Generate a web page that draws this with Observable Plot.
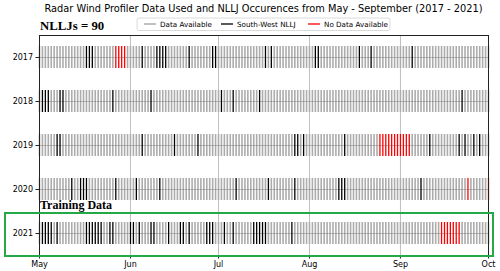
<!DOCTYPE html>
<html><head><meta charset="utf-8">
<script src="https://cdn.jsdelivr.net/npm/d3@7"></script>
<script src="https://cdn.jsdelivr.net/npm/@observablehq/plot@0.6"></script>
<style>body{margin:0;background:#fff;} #chart svg{display:block;}</style>
</head><body><div id="chart"></div>
<script>
// ---- data (days counted from May 1 = 0) ----
const years = [2017, 2018, 2019, 2020, 2021];
const monthLabels = ["May", "Jun", "Jul", "Aug", "Sep", "Oct"];
const monthStarts = [0, 31, 61, 92, 123, 153];
const seasonDays = 154; // May 1 .. Oct 1
const statusLabels = ["Data Available", "South-West NLLJ", "No Data Available"];
const nlljTotal = 90;

const nllj2017 = [16,17,18,35,40,41,42,43,51,59,60,77,79,94,95,109,113,127];
const missing2017 = [26,27,28,29];
const nllj2018 = [1,2,3,7,8,25,38,62,66,75,144];
const missing2018 = [];
const nllj2019 = [6,7,35,46,54,87,88,90,104,133,143,145,148,150];
const missing2019 = [116,117,118,119,120,121,122,123,124,125,126];
const nllj2020 = [11,14,15,16,26,33,41,67,78,87,102,103,104,130];
const missing2020 = [146,153];
const nllj2021 = [1,2,3,4,6,16,17,18,19,20,21,24,25,31,32,34,38,39,44,48,49,51,57,58,59,63,66,73,74,75,76,77,86];
const missing2021 = [137,138,139,140,141,142,143];

const nlljByYear = [nllj2017, nllj2018, nllj2019, nllj2020, nllj2021];
const missingByYear = [missing2017, missing2018, missing2019, missing2020, missing2021];

// ---- table ----
const rows = [];
years.forEach((year, i) => {
  for (let day = 0; day < seasonDays; day++) {
    let status = statusLabels[0];
    if (missingByYear[i].includes(day)) status = statusLabels[2];
    else if (nlljByYear[i].includes(day)) status = statusLabels[1];
    rows.push({year, day, status});
  }
});
const grayRows = rows.filter(d => d.status === statusLabels[0]);
const blackRows = rows.filter(d => d.status === statusLabels[1]);
const redRows = rows.filter(d => d.status === statusLabels[2]);

const half = 0.25;
const green = "#25a847";
const lastYear = years[years.length - 1];

function annotations(index, scales, values, dimensions) {
  const {x, y} = scales;
  const g = d3.create("svg:g").attr("text-anchor", "start");
  const left = dimensions.marginLeft, right = dimensions.width - dimensions.marginRight;
  // title
  g.append("text").attr("x", (left + right) / 2).attr("y", 12)
    .attr("text-anchor", "middle").attr("font-family", "DejaVu Sans").attr("font-size", 9.8)
    .attr("fill", "#000")
    .text("Radar Wind Profiler Data Used and NLLJ Occurences from May - September (2017 - 2021)");
  // NLLJ count
  g.append("text").attr("x", x(0) + 1).attr("y", 30).attr("text-anchor", "start")
    .attr("font-family", "Liberation Serif").attr("font-weight", "bold").attr("font-size", 12.8)
    .attr("fill", "#000").text(`NLLJs = ${nlljTotal}`);
  // legend
  const leg = g.append("g");
  leg.append("rect").attr("x", 137).attr("y", 18).attr("width", 253).attr("height", 12.5)
    .attr("rx", 2).attr("fill", "#fff").attr("stroke", "#d0d0d0").attr("stroke-width", 0.8);
  const items = [
    {label: statusLabels[0], color: "#a0a0a0", x0: 144},
    {label: statusLabels[1], color: "#000", x0: 221},
    {label: statusLabels[2], color: "red", x0: 308}
  ];
  for (const it of items) {
    leg.append("line").attr("x1", it.x0).attr("x2", it.x0 + 12).attr("y1", 24).attr("y2", 24)
      .attr("stroke", it.color).attr("stroke-width", 1.3);
    leg.append("text").attr("x", it.x0 + 16).attr("y", 26.6).attr("text-anchor", "start")
      .attr("font-family", "DejaVu Sans").attr("font-size", 7.2).attr("fill", "#000").text(it.label);
  }
  // training data box
  const top = y(lastYear - 0.5) + 2, bottom = y(lastYear + 0.5) + 1;
  g.append("rect").attr("x", 5).attr("y", top)
    .attr("width", right + 5 - 5).attr("height", bottom - top)
    .attr("fill", "none").attr("stroke", green).attr("stroke-width", 2);
  g.append("text").attr("x", x(0) + 1).attr("y", y(lastYear - 0.5) - 2).attr("text-anchor", "start")
    .attr("font-family", "Liberation Serif").attr("font-weight", "bold").attr("font-size", 12)
    .attr("fill", "#000").text("Training Data");
  return g.node();
}

const chart = Plot.plot({
  width: 500,
  height: 271,
  marginLeft: 39,
  marginRight: 12,
  marginTop: 35,
  marginBottom: 16,
  style: {fontFamily: "DejaVu Sans", fontSize: "8px", background: "#fff", color: "#000", overflow: "visible"},
  x: {domain: [0, seasonDays - 1], axis: null},
  y: {domain: [lastYear + 0.5, years[0] - 0.5], axis: null},
  marks: [
    Plot.ruleX(monthStarts, {x: d => d, stroke: "#b0b0b0", strokeWidth: 0.8}),
    Plot.ruleX(grayRows, {x: "day", y1: d => d.year - half, y2: d => d.year + half, stroke: "#acacac", strokeWidth: 1.6}),
    Plot.ruleY(years, {y: d => d, stroke: "#7a7a7a", strokeOpacity: 0.55, strokeWidth: 0.9}),
    Plot.ruleX(blackRows, {x: "day", y1: d => d.year - half, y2: d => d.year + half, stroke: "black", strokeWidth: 1.3}),
    Plot.ruleX(redRows, {x: "day", y1: d => d.year - half, y2: d => d.year + half, stroke: "red", strokeWidth: 1.3}),
    Plot.frame({stroke: "#222", strokeWidth: 1}),
    Plot.axisX(monthStarts, {tickFormat: d => monthLabels[monthStarts.indexOf(d)], tickSize: 3.5, tickPadding: 2, label: null, fontSize: 8, stroke: "#222"}),
    Plot.axisY(years, {tickFormat: d => String(d), tickSize: 3.5, tickPadding: 3, label: null, fontSize: 8, stroke: "#222"}),
    annotations
  ]
});
document.getElementById("chart").append(chart);
</script>
</body></html>
